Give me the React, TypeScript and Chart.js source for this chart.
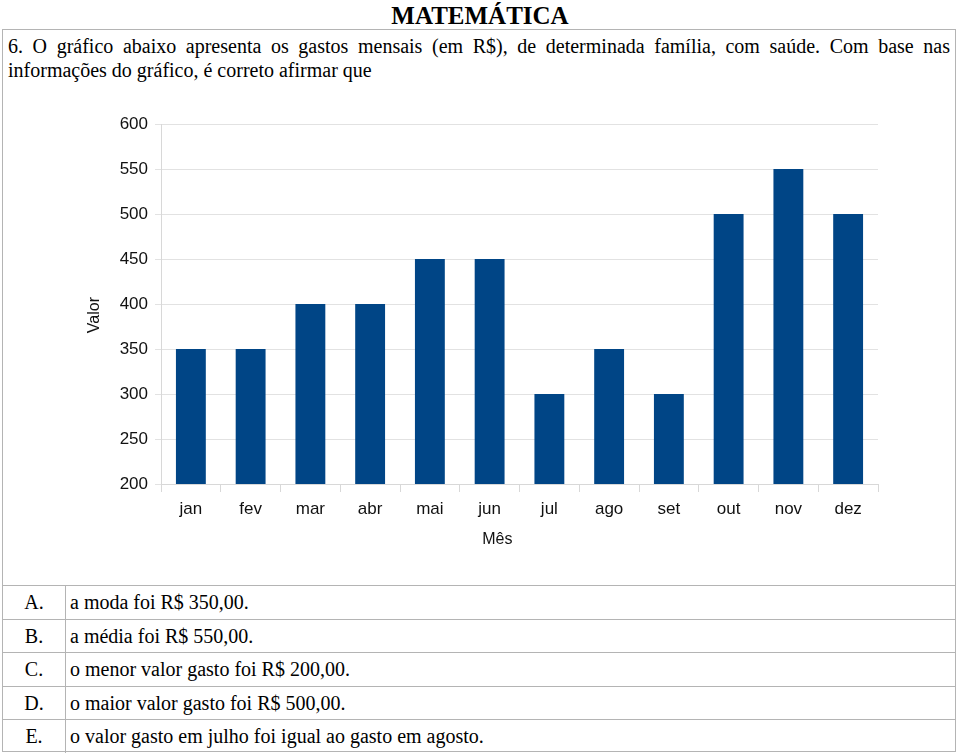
import React, { useEffect, useRef } from "react";
import { Chart, registerables } from "chart.js";

Chart.register(...registerables);

const months = ["jan", "fev", "mar", "abr", "mai", "jun", "jul", "ago", "set", "out", "nov", "dez"];
const values = [350, 350, 400, 400, 450, 450, 300, 350, 300, 500, 550, 500];
const yMin = 200;
const yMax = 600;
const yStep = 50;
const yTitle = "Valor";
const xTitle = "Mês";

const pageTitle = "MATEMÁTICA";
const question =
  "6. O gráfico abaixo apresenta os gastos mensais (em R$), de determinada família, com saúde. Com base nas informações do gráfico, é correto afirmar que";
const optionLetters = ["A.", "B.", "C.", "D.", "E."];
const optionTexts = [
  "a moda foi R$ 350,00.",
  "a média foi R$ 550,00.",
  "o menor valor gasto foi R$ 200,00.",
  "o maior valor gasto foi R$ 500,00.",
  "o valor gasto em julho foi igual ao gasto em agosto.",
];

const SERIF = '"Liberation Serif", "Times New Roman", serif';
const SANS = '"Liberation Sans", Arial, sans-serif';
const BORDER = "#b4b4b4";

function BarChart() {
  const ref = useRef<HTMLCanvasElement | null>(null);
  useEffect(() => {
    if (!ref.current) return;
    const chart = new Chart(ref.current, {
      type: "bar",
      data: {
        labels: months,
        datasets: [
          {
            data: values,
            backgroundColor: "#004586",
            borderWidth: 0,
            barPercentage: 0.5,
            categoryPercentage: 1,
          },
        ],
      },
      options: {
        animation: false,
        responsive: false,
        maintainAspectRatio: false,
        layout: { padding: { top: 20, right: 22, left: 0, bottom: 0 } },
        plugins: { legend: { display: false }, tooltip: { enabled: false } },
        scales: {
          x: {
            offset: true,
            grid: {
              offset: true,
              drawOnChartArea: true,
              color: (ctx: any) => (ctx.index === months.length ? "#d8d8d8" : "rgba(0,0,0,0)"),
              tickColor: "#d8d8d8",
              tickLength: 8,
            },
            border: { color: "#d8d8d8" },
            ticks: {
              color: "#111",
              font: { family: SANS, size: 17 },
              padding: 7,
              maxRotation: 0,
            },
            title: {
              display: true,
              text: xTitle + "          ",
              color: "#111",
              font: { family: SANS, size: 16 },
              padding: { top: 0, bottom: 15 },
            },
            afterFit: (scale: any) => {
              scale.height = 80;
            },
          },
          y: {
            min: yMin,
            max: yMax,
            grid: { color: "#e2e2e2", tickColor: "#e2e2e2", tickLength: 6 },
            border: { color: "#d8d8d8" },
            ticks: {
              stepSize: yStep,
              color: "#111",
              font: { family: SANS, size: 17 },
              padding: 7,
            },
            title: {
              display: true,
              text: yTitle + "     ",
              color: "#111",
              font: { family: SANS, size: 16 },
              padding: { top: 15, bottom: 0 },
            },
            afterFit: (scale: any) => {
              scale.width = 91;
            },
          },
        },
      },
    });
    return () => chart.destroy();
  }, []);
  return (
    <canvas
      ref={ref}
      width={830}
      height={460}
      style={{ position: "absolute", left: 70, top: 104, width: 830, height: 460 }}
    />
  );
}

export default function App() {
  const rowTop = 585;
  const rowH = 33.6;
  return (
    <div
      style={{
        position: "absolute",
        left: 0,
        top: 0,
        width: 960,
        height: 753,
        background: "#fff",
        overflow: "hidden",
        fontFamily: SERIF,
        color: "#000",
      }}
    >
      <div
        style={{
          position: "absolute",
          left: 0,
          top: 0,
          width: 960,
          textAlign: "center",
          fontWeight: "bold",
          fontSize: 25,
          lineHeight: "31px",
        }}
      >
        {pageTitle}
      </div>
      <div
        style={{
          position: "absolute",
          left: 2,
          top: 29,
          width: 954,
          height: 723,
          border: `1px solid ${BORDER}`,
          boxSizing: "border-box",
        }}
      />
      <div
        style={{
          position: "absolute",
          left: 8,
          top: 34,
          width: 942,
          fontSize: 20,
          lineHeight: "24px",
          textAlign: "justify",
        }}
      >
        {question}
      </div>
      <BarChart />
      {optionLetters.map((l, i) => (
        <React.Fragment key={l}>
          <div
            style={{
              position: "absolute",
              left: 2,
              top: rowTop + i * rowH,
              width: 954,
              height: i === optionLetters.length - 1 ? 753 - (rowTop + i * rowH) : rowH,
              borderTop: `1px solid ${BORDER}`,
              boxSizing: "border-box",
            }}
          />
          <div
            style={{
              position: "absolute",
              left: 3,
              top: rowTop + i * rowH + 1,
              width: 62,
              height: rowH,
              lineHeight: `${rowH}px`,
              textAlign: "center",
              fontSize: 20,
            }}
          >
            {l}
          </div>
          <div
            style={{
              position: "absolute",
              left: 70,
              top: rowTop + i * rowH + 1,
              height: rowH,
              lineHeight: `${rowH}px`,
              fontSize: 20,
              whiteSpace: "nowrap",
            }}
          >
            {optionTexts[i]}
          </div>
        </React.Fragment>
      ))}
      <div
        style={{
          position: "absolute",
          left: 65,
          top: rowTop,
          width: 1,
          height: 753 - rowTop,
          background: BORDER,
        }}
      />
    </div>
  );
}
